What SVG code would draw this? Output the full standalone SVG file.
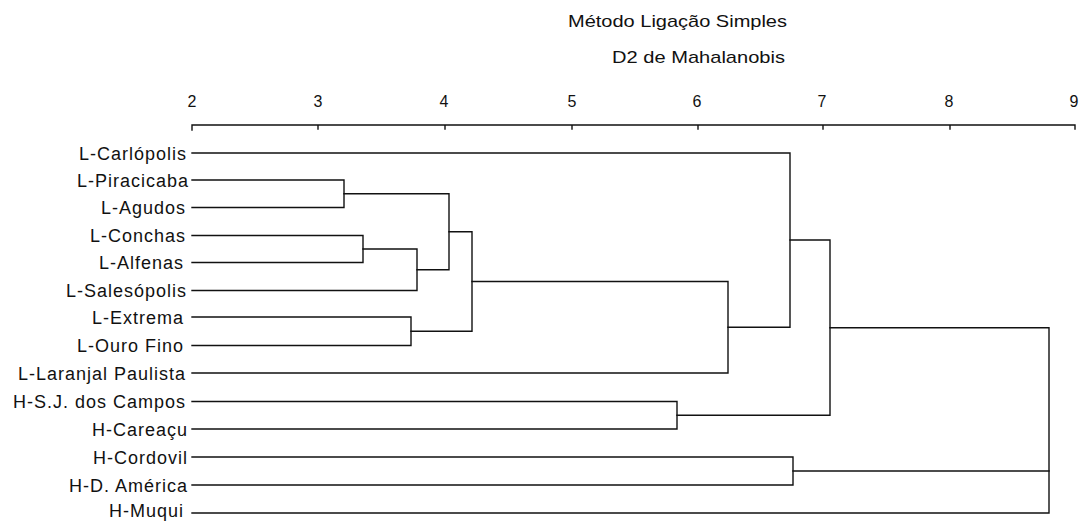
<svg xmlns="http://www.w3.org/2000/svg" width="1083" height="521" viewBox="0 0 1083 521">
<style>
.t{font-family:"Liberation Sans",Arial,sans-serif;fill:#111}
.lab{font-size:18px;letter-spacing:1px;text-anchor:end}
.num{font-size:16px;text-anchor:middle}
.ttl{font-size:17px}
.ln{fill:none;stroke:#111;stroke-width:1.4;stroke-linejoin:miter;stroke-linecap:square}
</style>
<rect width="1083" height="521" fill="#fff"/>
<g id="title">
<text class="t ttl" x="568" y="27" textLength="219" lengthAdjust="spacingAndGlyphs">Método Ligação Simples</text>
<text class="t ttl" x="612" y="63" textLength="173" lengthAdjust="spacingAndGlyphs">D2 de Mahalanobis</text>
</g>
<g id="axis">
<path class="ln" d="M192,125 H1075 M192,125 V130 M318,125 V129 M445,125 V129 M572,125 V129 M698,125 V129 M823,125 V129 M950,125 V129 M1075,125 V129"/>
<text class="t num" x="192" y="107">2</text>
<text class="t num" x="318" y="107">3</text>
<text class="t num" x="444" y="107">4</text>
<text class="t num" x="572" y="107">5</text>
<text class="t num" x="697" y="107">6</text>
<text class="t num" x="822" y="107">7</text>
<text class="t num" x="949" y="107">8</text>
<text class="t num" x="1074" y="107">9</text>
</g>
<g id="n-carlopolis"><text class="t lab" x="187" y="159.5">L-Carlópolis</text></g>
<g id="n-piracicaba"><text class="t lab" x="189" y="186.5">L-Piracicaba</text></g>
<g id="n-agudos"><text class="t lab" x="186" y="214">L-Agudos</text></g>
<g id="n-conchas"><text class="t lab" x="186" y="242">L-Conchas</text></g>
<g id="n-alfenas"><text class="t lab" x="184" y="269">L-Alfenas</text></g>
<g id="n-salesopolis"><text class="t lab" x="187" y="297">L-Salesópolis</text></g>
<g id="n-extrema"><text class="t lab" x="184" y="323.5">L-Extrema</text></g>
<g id="n-ourofino"><text class="t lab" x="184" y="352">L-Ouro Fino</text></g>
<g id="n-laranjal"><text class="t lab" x="186" y="379.5">L-Laranjal Paulista</text></g>
<g id="n-sjcampos"><text class="t lab" x="186" y="408">H-S.J. dos Campos</text></g>
<g id="n-careacu"><text class="t lab" x="188" y="435.5">H-Careaçu</text></g>
<g id="n-cordovil"><text class="t lab" x="188" y="463.5">H-Cordovil</text></g>
<g id="n-damerica"><text class="t lab" x="188" y="491.5">H-D. América</text></g>
<g id="n-muqui"><text class="t lab" x="184" y="516.5">H-Muqui</text></g>
<g id="connectors">
<path class="ln" d="M192,180 H344 V207.5 H192"/>
<path class="ln" d="M192,235.5 H363 V262.5 H192"/>
<path class="ln" d="M363,249 H417 V290.5 H192"/>
<path class="ln" d="M344,193.75 H449 V269.75 H417"/>
<path class="ln" d="M192,317 H411 V345.5 H192"/>
<path class="ln" d="M449,231.75 H472 V331.25 H411"/>
<path class="ln" d="M472,281.5 H728 V373 H192"/>
<path class="ln" d="M192,153 H790 V327.25 H728"/>
<path class="ln" d="M192,401.5 H677 V429 H192"/>
<path class="ln" d="M790,240 H830 V415.25 H677"/>
<path class="ln" d="M192,457 H793 V485 H192"/>
<path class="ln" d="M830,327.7 H1049 V513 H192"/>
<path class="ln" d="M793,471 H1049"/>
</g>
</svg>
